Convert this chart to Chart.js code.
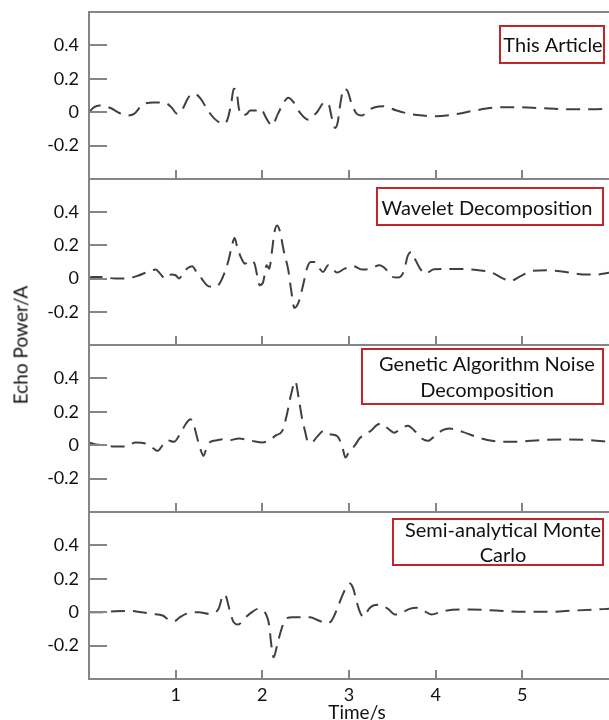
<!DOCTYPE html>
<html><head><meta charset="utf-8">
<script src="https://cdn.jsdelivr.net/npm/chart.js@4.4.0/dist/chart.umd.min.js"></script>
<style>
html,body{margin:0;padding:0;background:#fff;}
#wrap{position:relative;width:609px;height:720px;overflow:hidden;background:#fff;}
canvas{position:absolute;left:0;}
.axt{position:absolute;white-space:nowrap;font-family:Lato,sans-serif;font-size:19px;color:#111;line-height:1;}
</style></head><body><div id="wrap">
<canvas id="c1"></canvas><canvas id="c2"></canvas><canvas id="c3"></canvas><canvas id="c4"></canvas>
<div id="ytitle" class="axt"></div><div id="xtitle" class="axt"></div>
</div>
<script>
// ---- data ----
const panelNames = ["This Article", "Wavelet Decomposition", "Genetic Algorithm Noise Decomposition", "Semi-analytical Monte Carlo"];
const xLabel = "Time/s";
const yLabel = "Echo Power/A";
const xTickValues = [1, 2, 3, 4, 5];
const yTickValues = [-0.2, 0, 0.2, 0.4];

const articleT = [0.00,0.06,0.12,0.25,0.35,0.44,0.52,0.63,0.75,0.88,0.95,1.02,1.08,1.15,1.22,1.29,1.36,1.45,1.56,1.60,1.64,1.67,1.70,1.73,1.77,1.82,1.86,1.92,1.98,2.05,2.11,2.18,2.25,2.30,2.36,2.43,2.53,2.63,2.72,2.77,2.80,2.84,2.87,2.90,2.94,2.98,3.03,3.09,3.15,3.22,3.30,3.40,3.55,3.70,3.85,4.00,4.20,4.45,4.70,4.90,5.20,5.50,5.80,6.00];
const articleV = [0.00,0.03,0.04,0.025,-0.005,-0.02,-0.01,0.05,0.058,0.055,0.03,-0.01,0.02,0.09,0.11,0.08,0.02,-0.04,-0.07,-0.04,0.05,0.14,0.13,0.02,-0.02,-0.01,0.01,0.01,0.02,-0.04,-0.08,-0.01,0.06,0.086,0.06,0.0,-0.045,0.0,0.06,0.04,-0.03,-0.094,-0.06,0.05,0.14,0.13,0.05,-0.01,-0.02,0.01,0.03,0.035,0.01,-0.01,-0.02,-0.024,-0.015,0.01,0.028,0.03,0.025,0.018,0.018,0.02];

const waveletT = [0.00,0.03,0.15,0.30,0.42,0.55,0.70,0.77,0.82,0.88,0.95,1.00,1.04,1.08,1.14,1.19,1.24,1.30,1.36,1.44,1.50,1.56,1.61,1.65,1.68,1.71,1.76,1.80,1.86,1.91,1.94,1.97,2.01,2.05,2.08,2.11,2.14,2.17,2.20,2.25,2.30,2.33,2.37,2.42,2.47,2.52,2.56,2.61,2.66,2.70,2.76,2.80,2.86,2.95,3.05,3.15,3.25,3.35,3.42,3.50,3.56,3.63,3.68,3.72,3.76,3.82,3.88,3.98,4.20,4.45,4.65,4.78,4.86,4.98,5.11,5.30,5.50,5.70,5.85,6.00];
const waveletV = [0.00,0.01,0.01,0.0,0.0,0.015,0.045,0.055,0.03,0.0,0.024,0.02,0.0,0.03,0.064,0.075,0.04,0.0,-0.04,-0.05,-0.035,0.03,0.11,0.2,0.244,0.19,0.12,0.09,0.11,0.09,0.02,-0.04,-0.02,0.08,0.06,0.16,0.28,0.32,0.29,0.16,0.05,-0.06,-0.176,-0.14,-0.04,0.07,0.1,0.1,0.06,0.04,0.08,0.07,0.036,0.06,0.075,0.055,0.06,0.08,0.06,0.01,0.006,0.04,0.14,0.16,0.12,0.06,0.03,0.056,0.058,0.054,0.035,0.0,-0.014,0.015,0.046,0.05,0.04,0.025,0.024,0.035];

const geneticT = [0.00,0.08,0.17,0.30,0.42,0.54,0.65,0.72,0.79,0.85,0.90,0.98,1.06,1.12,1.17,1.21,1.25,1.29,1.32,1.36,1.40,1.48,1.55,1.62,1.73,1.88,2.00,2.08,2.16,2.23,2.28,2.33,2.38,2.42,2.46,2.49,2.53,2.58,2.63,2.71,2.77,2.86,2.92,2.96,3.00,3.07,3.12,3.19,3.26,3.32,3.38,3.45,3.52,3.60,3.68,3.75,3.84,3.91,4.00,4.08,4.16,4.31,4.50,4.65,4.85,5.00,5.20,5.50,5.80,6.00];
const geneticV = [0.016,0.005,0.0,-0.008,-0.008,0.016,0.01,-0.01,-0.034,0.0,0.03,0.02,0.076,0.13,0.156,0.12,0.04,-0.03,-0.064,-0.01,0.02,0.03,0.036,0.03,0.04,0.026,0.016,0.03,0.06,0.086,0.176,0.3,0.384,0.28,0.156,0.09,0.016,0.02,0.05,0.086,0.066,0.056,-0.004,-0.074,-0.04,0.0,0.04,0.066,0.09,0.12,0.13,0.1,0.075,0.1,0.116,0.09,0.04,0.026,0.06,0.09,0.1,0.08,0.045,0.026,0.02,0.022,0.03,0.034,0.03,0.02];

const monteCarloT = [0.00,0.15,0.30,0.46,0.60,0.73,0.85,0.92,0.98,1.05,1.12,1.27,1.38,1.46,1.50,1.54,1.57,1.60,1.63,1.67,1.72,1.80,1.88,1.95,2.00,2.04,2.08,2.10,2.13,2.17,2.21,2.27,2.35,2.55,2.65,2.75,2.80,2.86,2.92,2.97,3.01,3.05,3.09,3.13,3.17,3.23,3.28,3.35,3.45,3.53,3.60,3.70,3.78,3.86,3.95,4.10,4.40,4.70,5.00,5.30,5.60,6.00];
const monteCarloV = [0.0,0.0,0.006,0.008,0.0,-0.01,-0.02,-0.045,-0.054,-0.03,-0.01,0.0,-0.01,0.0,0.026,0.096,0.106,0.06,-0.004,-0.06,-0.074,-0.034,0.0,0.02,0.01,-0.01,-0.08,-0.18,-0.27,-0.2,-0.12,-0.04,-0.03,-0.03,-0.05,-0.066,-0.05,0.016,0.096,0.15,0.172,0.14,0.06,-0.004,-0.028,0.02,0.04,0.045,0.02,-0.014,-0.005,0.02,0.026,0.01,-0.014,0.008,0.016,0.01,0.002,0.002,0.01,0.02];

// ---- styling / layout ----
const FONT = 'Lato, "Open Sans", sans-serif';
const frameColor = '#858585';
const boxColor = '#c0272d';

const framePlugin = {
  id: 'panelFrame',
  afterDraw(chart, args, o) {
    const {ctx, chartArea: a, scales: {x, y}} = chart;
    ctx.save();
    ctx.strokeStyle = frameColor;
    ctx.lineWidth = 2;
    ctx.beginPath();
    ctx.moveTo(a.left, a.top); ctx.lineTo(a.right, a.top);
    ctx.moveTo(a.left, a.bottom); ctx.lineTo(a.right, a.bottom);
    ctx.moveTo(a.left, a.top - 1); ctx.lineTo(a.left, a.bottom + 1);
    yTickValues.forEach(v => { const py = Math.round(y.getPixelForValue(v)); ctx.moveTo(a.left, py); ctx.lineTo(a.left + 18, py); });
    xTickValues.forEach(v => { const px = Math.round(x.getPixelForValue(v)); ctx.moveTo(px, a.bottom); ctx.lineTo(px, a.bottom - 9); });
    ctx.stroke();
    // legend label box
    const off = o.offset;
    ctx.strokeStyle = boxColor;
    ctx.lineWidth = 2;
    ctx.strokeRect(o.box[0], o.box[1] - off, o.box[2], o.box[3]);
    ctx.fillStyle = '#111';
    ctx.font = o.fontSize + 'px ' + FONT;
    ctx.textAlign = 'center';
    ctx.textBaseline = 'alphabetic';
    o.lines.forEach((t, i) => ctx.fillText(t, o.cx, o.baselines[i] - off));
    ctx.restore();
  }
};

function makePanel(id, top, height, padBottom, times, values, showX, legendOpts) {
  const canvas = document.getElementById(id);
  canvas.style.top = top + 'px';
  canvas.width = 609; canvas.height = height;
  canvas.style.width = '609px'; canvas.style.height = height + 'px';
  legendOpts.offset = top;
  new Chart(canvas, {
    type: 'line',
    data: { datasets: [{
      data: times.map((t, i) => ({x: t, y: values[i]})),
      borderColor: '#404040', borderWidth: 2, borderDash: [14, 8],
      pointRadius: 0, cubicInterpolationMode: 'monotone', fill: false
    }]},
    options: {
      responsive: false, animation: false, devicePixelRatio: 1,
      layout: { padding: { top: 12, bottom: padBottom, left: 0, right: 0 } },
      plugins: { legend: { display: false }, tooltip: { enabled: false }, panelFrame: legendOpts },
      scales: {
        x: {
          type: 'linear', min: 0, max: 6, display: showX,
          grid: { display: false, drawTicks: false }, border: { display: false },
          afterBuildTicks: s => { s.ticks = xTickValues.map(v => ({value: v})); },
          afterFit: s => { s.height = showX ? 41 : 0; s.paddingLeft = 0; s.paddingRight = 0; s.paddingTop = 0; s.paddingBottom = 0; },
          ticks: { font: { family: FONT, size: 18 }, color: '#111', padding: 5, maxRotation: 0, autoSkip: false,
                   callback: v => String(v) }
        },
        y: {
          min: -0.4, max: 0.6,
          grid: { display: false, drawTicks: false }, border: { display: false },
          afterBuildTicks: s => { s.ticks = yTickValues.map(v => ({value: v})); },
          afterFit: s => { s.width = 89; s.paddingTop = 0; s.paddingBottom = 0; s.paddingLeft = 0; s.paddingRight = 0; },
          ticks: { font: { family: FONT, size: 18 }, color: '#111', padding: 10,
                   callback: v => (Math.abs(v) < 1e-9 ? '0' : String(Math.round(v * 10) / 10)) }
        }
      }
    },
    plugins: [framePlugin]
  });
}

makePanel('c1', 0, 191, 12, articleT, articleV, false,
  { lines: [panelNames[0]], box: [500, 26, 104, 37], cx: 553, baselines: [52], fontSize: 20 });
makePanel('c2', 167, 190, 12, waveletT, waveletV, false,
  { lines: [panelNames[1]], box: [377, 188, 226, 37], cx: 487, baselines: [215], fontSize: 20 });
makePanel('c3', 333, 191, 12, geneticT, geneticV, false,
  { lines: ["Genetic Algorithm Noise", "Decomposition"], box: [362, 349, 241, 55], cx: 487, baselines: [371, 397], fontSize: 20 });
makePanel('c4', 500, 220, 0, monteCarloT, monteCarloV, true,
  { lines: ["Semi-analytical Monte", "Carlo"], box: [393, 519, 210, 46], cx: 503, baselines: [537, 562], fontSize: 20 });

const yt = document.getElementById('ytitle');
yt.textContent = yLabel;
yt.style.left = '20px'; yt.style.top = '345px';
yt.style.transform = 'translate(-50%,-50%) rotate(-90deg)';
const xt = document.getElementById('xtitle');
xt.textContent = xLabel;
xt.style.left = '357px'; xt.style.top = '711px';
xt.style.transform = 'translate(-50%,-50%)';
</script>
</body></html>
